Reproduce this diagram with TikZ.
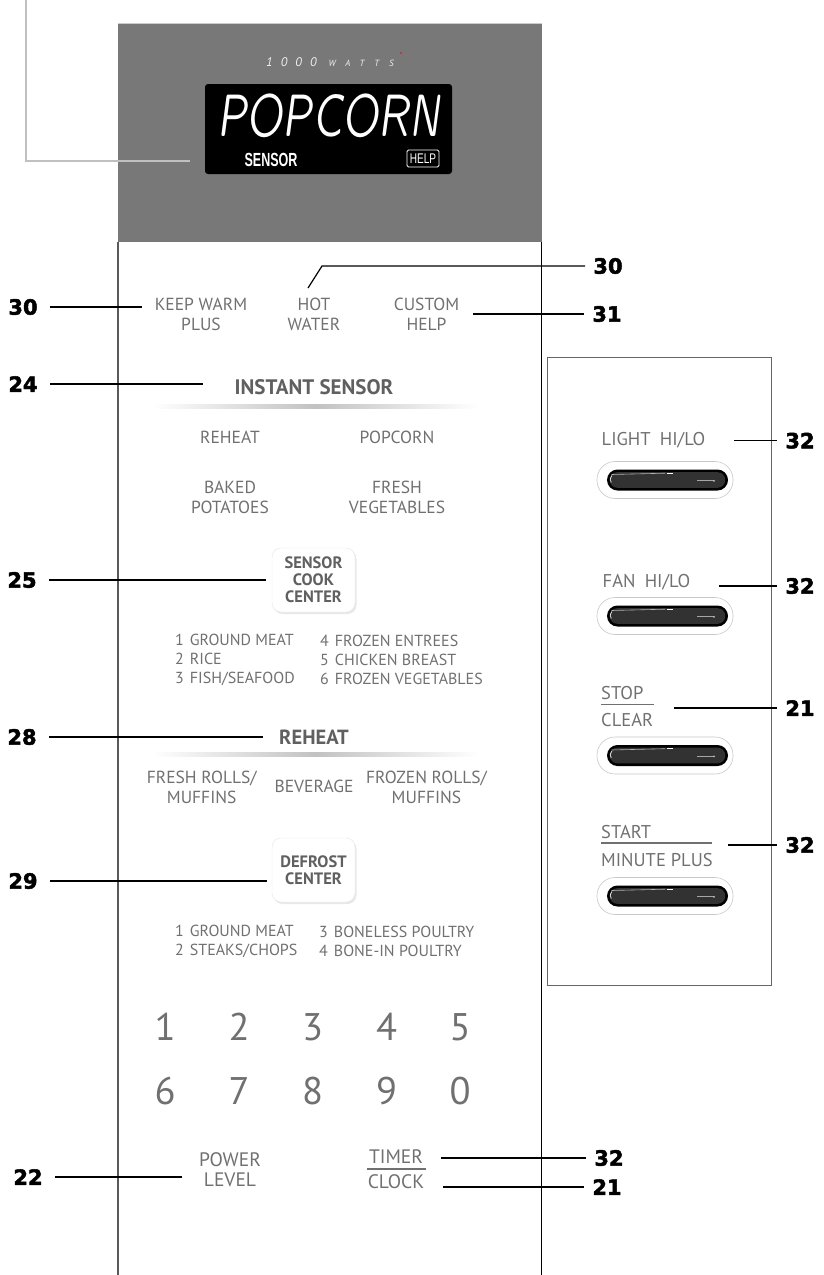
\documentclass[tikz,border=0pt]{standalone}
\usepackage{fontspec}
\setmainfont{PT Sans}
\newfontfamily\lblfont[BoldFeatures={FakeBold=2.2}]{DejaVu Sans}
\newfontfamily\condfont{Liberation Sans}
\newfontfamily\segfont{lmsansquot8-oblique.otf}
\newfontfamily\wattfont[LetterSpace=65]{PT Sans}
\newfontfamily\wattsfont[LetterSpace=110]{PT Sans}
\usetikzlibrary{shadows}
\definecolor{txt}{RGB}{112,112,112}
\definecolor{txtb}{RGB}{96,96,96}
\definecolor{panel}{RGB}{120,120,120}
\definecolor{conn}{RGB}{192,192,192}
\definecolor{btnfill}{RGB}{50,50,50}
\tikzset{
  body/.style={text=txt, font=\fontsize{17.5}{20}\selectfont, align=center, inner sep=0pt},
  listtxt/.style={text=txt, font=\fontsize{16}{19}\selectfont, align=left, inner sep=0pt, anchor=west},
  sidetxt/.style={text=txt, font=\fontsize{18.5}{20}\selectfont, inner sep=0pt, anchor=west},
  bottxt/.style={text=txt, font=\fontsize{19.5}{20}\selectfont, align=center, inner sep=0pt},
  head/.style={text=txtb, font=\fontsize{21}{24}\selectfont\bfseries, inner sep=0pt},
  digit/.style={text=txt, font=\fontsize{38.5}{40}\selectfont, inner sep=0pt},
  lblL/.style={font=\lblfont\bfseries\fontsize{21}{22}\selectfont, inner xsep=12pt, inner ysep=0pt},
  lblR/.style={font=\lblfont\bfseries\fontsize{21}{22}\selectfont, inner xsep=8pt, inner ysep=0pt},
  leader/.style={draw=black, line width=1.2pt},
  sepline/.style={draw=txt, line width=1.3pt},
  keybtn/.style={draw=black!10, fill=white, rounded corners=9pt, minimum width=83pt,
     minimum height=64pt, drop shadow={opacity=0.18, shadow xshift=1.5pt, shadow yshift=-2pt},
     text=txtb, font=\fontsize{16.5}{17}\selectfont\bfseries, align=center, inner sep=0pt},
  connline/.style={draw=conn, line width=1.3pt}
}
\begin{document}
\begin{tikzpicture}[x=1pt,y=-1pt]
\useasboundingbox (0,0) rectangle (824,1275);
% top gray panel and outline of control panel
\fill[panel] (118,23) rectangle (542,242);
\draw[black!20, line width=0.8pt] (118,23.4) -- (542,23.4);
\draw[black!65, line width=1.3pt] (118,242) -- (118,1275);
\draw[black, line width=1pt] (541.5,242) -- (541.5,1275);
% display
\node[fill=black, rounded corners=3pt, minimum width=247pt, minimum height=90pt, inner sep=0pt] (disp) at (328.5,129) {};
\node[text=white, inner sep=0pt] (popc) at (328.5,116) {\segfont\fontsize{60.5}{60}\selectfont\scalebox{0.62}[1]{POPCORN}};
\node[text=white, inner sep=0pt] (sens) at (271,160) {\condfont\bfseries\fontsize{19}{19}\selectfont\scalebox{0.66}[1]{SENSOR}};
\node[draw=white, line width=0.9pt, rounded corners=1.5pt, minimum width=32pt, minimum height=17pt, inner sep=0pt, text=white] (help) at (423,158.5) {\condfont\fontsize{14}{14}\selectfont\scalebox{0.72}[1]{HELP}};
\node[text=black!6, inner sep=0pt, anchor=west] (watts) at (266,62) {\itshape{\wattfont\fontsize{12.5}{12}\selectfont 1000}\hspace{12pt}{\wattsfont\fontsize{9}{9}\selectfont WATTS}};
\fill[red] (401,53) circle (0.8);
% gray connector at top-left
\coordinate (cTop) at (26,0);
\coordinate (cEnd) at (190,161);
\draw[connline] (cTop) |- (cEnd);

% top row
\node[body] (kw) at (201,314) {KEEP WARM\\PLUS};
\node[body] (hw) at (314,314) {HOT\\WATER};
\node[body] (ch) at (426.5,314) {CUSTOM\\HELP};
% instant sensor
\node[head] (inst) at (314,387) {INSTANT SENSOR};
\shade[left color=white, right color=white, middle color=black!24] (152,404) rectangle (478,408);
\node[body] (rh1) at (230,437) {REHEAT};
\node[body] (pc) at (397,437) {POPCORN};
\node[body] (bp) at (230,497) {BAKED\\POTATOES};
\node[body] (fv) at (397,497) {FRESH\\VEGETABLES};
% sensor cook center
\node[keybtn] (scc) at (313.5,580) {SENSOR\\COOK\\CENTER};
\node[listtxt] (sl) at (175,660) {1\hspace{6pt}GROUND MEAT\\2\hspace{6pt}RICE\\3\hspace{6pt}FISH/SEAFOOD};
\node[listtxt] (sr) at (320,660) {4\hspace{6pt}FROZEN ENTREES\\5\hspace{6pt}CHICKEN BREAST\\6\hspace{6pt}FROZEN VEGETABLES};
% reheat
\node[head, font=\fontsize{20.5}{24}\selectfont\bfseries] (reh) at (314,737) {REHEAT};
\shade[left color=white, right color=white, middle color=black!24] (152,752) rectangle (478,756);
\node[body] (fr) at (201.7,787) {FRESH ROLLS/\\MUFFINS};
\node[body] (bev) at (314,786) {BEVERAGE};
\node[body] (fz) at (426.5,787) {FROZEN ROLLS/\\MUFFINS};
% defrost
\node[keybtn] (dc) at (313.5,870) {DEFROST\\CENTER};
\node[listtxt] (dl) at (175,941) {1\hspace{6pt}GROUND MEAT\\2\hspace{6pt}STEAKS/CHOPS};
\node[listtxt] (dr) at (319,941) {3\hspace{6pt}BONELESS POULTRY\\4\hspace{6pt}BONE-IN POULTRY};
% digits
\node[digit] (d1) at (165,1027) {1};
\node[digit] (d2) at (239,1027) {2};
\node[digit] (d3) at (312.5,1027) {3};
\node[digit] (d4) at (386.5,1027) {4};
\node[digit] (d5) at (460,1027) {5};
\node[digit] (d6) at (165,1091) {6};
\node[digit] (d7) at (239,1091) {7};
\node[digit] (d8) at (312.5,1091) {8};
\node[digit] (d9) at (386.5,1091) {9};
\node[digit] (d0) at (460,1091) {0};
% bottom
\node[bottxt] (pw) at (230,1170) {POWER\\LEVEL};
\node[bottxt] (tm) at (396,1157) {TIMER};
\node[bottxt] (ck) at (396,1182) {CLOCK};
\draw[sepline] (367,1169) -- (426,1169);

% right box
\draw[black!60, line width=0.8pt] (547,357) rectangle (771,985);
\node[sidetxt] (lt) at (601.5,440) {LIGHT\enspace HI/LO};
\node[sidetxt] (fn) at (602.5,582) {FAN\enspace HI/LO};
\node[sidetxt] (stp) at (601,693) {STOP};
\draw[sepline] (601,704.5) -- (654,704.5);
\node[sidetxt] (clr) at (601,720) {CLEAR};
\node[sidetxt] (st) at (601,832) {START};
\draw[sepline] (601,843) -- (711.5,843);
\node[sidetxt] (mp) at (601,860) {MINUTE PLUS};
\foreach \cy in {480,616,755.5,896} {
  \draw[black!22, line width=0.6pt, rounded corners=18pt] (597,\cy-18.5) rectangle (733,\cy+18.5);
  \fill[black, rounded corners=10.5pt] (607,\cy-10.5) rectangle (728,\cy+10.5);
  \fill[btnfill, rounded corners=7.5pt] (609.8,\cy-7.8) rectangle (725.2,\cy+7.8);
  \draw[black!30, line width=0.6pt] (611.5,\cy-5.5) -- (665,\cy-6.8);
  \draw[white, line width=1.2pt] (666.5,\cy-6.8) -- (672.5,\cy-6.8);
  \draw[black!35, line width=0.7pt] (697,\cy+0.8) -- (713.5,\cy+0.8);
  \fill[black!25] (714,\cy+0.8) circle (1);
  \draw[black!12, line width=0.8pt] (611.8,\cy-4.5) .. controls (609.8,\cy-2.5) and (609.8,\cy+0.5) .. (611.2,\cy+2.5);
}

% labels left
\node[lblL] (l30a) at (23,307) {30};
\node[lblL] (l24) at (23,384) {24};
\node[lblL] (l25) at (22,580) {25};
\node[lblL] (l28) at (22,737) {28};
\node[lblL] (l29) at (23,881) {29};
\node[lblL] (l22) at (28,1177) {22};
% labels right
\node[lblR] (l30b) at (608,266) {30};
\node[lblR] (l31) at (607,314) {31};
\node[lblR] (l32a) at (800,440.7) {32};
\node[lblR] (l32b) at (800,586) {32};
\node[lblR] (l21a) at (800,708) {21};
\node[lblR] (l32c) at (800,845) {32};
\node[lblR] (l32d) at (609,1158) {32};
\node[lblR] (l21b) at (607,1187) {21};

% leader end points
\coordinate (pKW) at (142,307);
\coordinate (pIS) at (203,384);
\coordinate (pSC) at (265.5,580);
\coordinate (pRH) at (263,737);
\coordinate (pDC) at (267,881);
\coordinate (pPW) at (182,1177);
\coordinate (pHW) at (308,288);
\coordinate (pHWk) at (322,266);
\coordinate (pCH) at (473,314);
\coordinate (pLT) at (734,440.7);
\coordinate (pFN) at (719,586);
\coordinate (pSP) at (674,708);
\coordinate (pST) at (728,845);
\coordinate (pTM) at (441,1158);
\coordinate (pCK) at (443,1187);

\draw[leader] (l30a.east) -- (pKW);
\draw[leader] (l24.east) -- (pIS);
\draw[leader] (l25.east) -- (pSC);
\draw[leader] (l28.east) -- (pRH);
\draw[leader] (l29.east) -- (pDC);
\draw[leader] (l22.east) -- (pPW);
\draw[leader] (pHW) -- (pHWk) -- (l30b.west);
\draw[leader] (pCH) -- (l31.west);
\draw[leader] (pLT) -- (l32a.west);
\draw[leader] (pFN) -- (l32b.west);
\draw[leader] (pSP) -- (l21a.west);
\draw[leader] (pST) -- (l32c.west);
\draw[leader] (pTM) -- (l32d.west);
\draw[leader] (pCK) -- (l21b.west);
\end{tikzpicture}
\end{document}
